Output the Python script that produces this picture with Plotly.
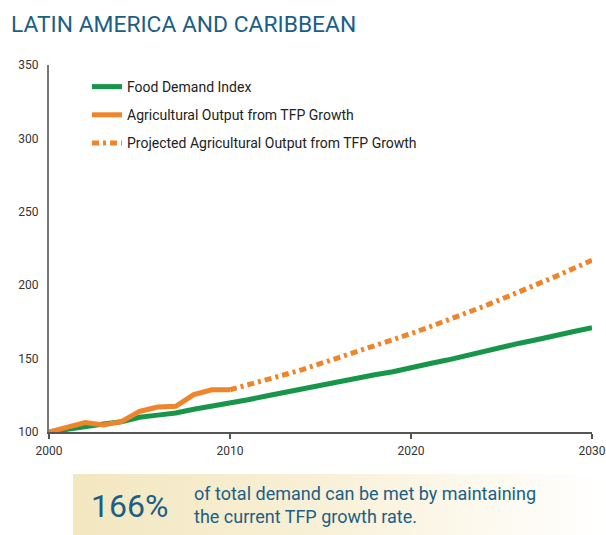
import plotly.graph_objects as go

years = list(range(2000, 2031))
food_demand = [100, 102, 104, 105.5, 107, 110, 111.5, 113, 115.5, 117.5, 120,
               122, 124.5, 127, 129, 131.5, 134, 136.5, 139, 141, 144,
               146.5, 149, 152, 154.5, 157.5, 160.5, 163, 166, 168.5, 171]
hist_years = list(range(2000, 2011))
ag_output = [100, 103.5, 106.5, 104.8, 107, 114, 117, 117.5, 125.5, 128.8, 128.8]
proj_years = list(range(2010, 2031))
ag_projected = [128.8, 132, 135.5, 139, 142.5, 146.5, 150.5, 154.5, 158.5, 163, 167,
                171.5, 176, 180.5, 185.5, 190.5, 195.5, 200.5, 206, 211.5, 217]
x_ticks = [2000, 2010, 2020, 2030]
y_ticks = [100, 150, 200, 250, 300, 350]

GREEN = "#17964a"
ORANGE = "#f0842a"
BLUE = "#1b5f86"
FONT = "Roboto"

W, H = 606, 535
ML, MR = 49, 0
MT, MB = 65, 0
pw, ph = W - ML - MR, H - MT - MB


def fx(px):  # reference x pixel -> paper x
    return (px - ML) / pw


def fy(py):  # reference y pixel -> paper y
    return (H - py) / ph


fig = go.Figure()
fig.add_trace(go.Scatter(x=years, y=food_demand, mode="lines", name="Food Demand Index",
                         line=dict(color=GREEN, width=5), legendgroup="a"))
fig.add_trace(go.Scatter(x=hist_years, y=ag_output, mode="lines",
                         name="Agricultural Output from TFP Growth",
                         line=dict(color=ORANGE, width=5), legendgroup="b"))
fig.add_trace(go.Scatter(x=proj_years, y=ag_projected, mode="lines",
                         name="Projected Agricultural Output from TFP Growth",
                         line=dict(color=ORANGE, width=5, dash="7px,4px,3px,4px"),
                         legendgroup="c"))

# gradient banner
fig.add_trace(go.Scatter(x=[0, 1, 1, 0, 0], y=[0, 0, 1, 1, 0], mode="none", fill="toself",
                         fillgradient=dict(type="horizontal",
                                           colorscale=[[0, "#f3e7c0"], [0.45, "#f8f0d6"], [1, "#ffffff"]]),
                         xaxis="x2", yaxis="y2", showlegend=False, hoverinfo="skip"))

fig.update_layout(
    width=W, height=H,
    margin=dict(l=ML, r=MR, t=MT, b=MB, autoexpand=False),
    plot_bgcolor="white", paper_bgcolor="white",
    font=dict(family=FONT, color="#333333", size=12),
    showlegend=True,
    legend=dict(x=fx(87), y=fy(71), xanchor="left", yanchor="top",
                font=dict(family=FONT, size=14, color="#222222"),
                tracegroupgap=7, bgcolor="rgba(0,0,0,0)", itemwidth=30),
    xaxis=dict(domain=[0, fx(592)], range=[2000, 2030], tickvals=x_ticks, automargin=False,
               showgrid=False, zeroline=False, showline=True, linecolor="#555555", linewidth=2,
               ticks="outside", ticklen=5, tickcolor="#555555", tickwidth=1.5,
               ticklabeloverflow="allow", ticklabelstandoff=2,
               tickfont=dict(size=12, color="#333333")),
    yaxis=dict(domain=[fy(432), 1], range=[100, 350], tickvals=y_ticks, automargin=False,
               showgrid=False, zeroline=False, showline=True, linecolor="#777777", linewidth=2,
               ticks="", ticklabelstandoff=6, tickfont=dict(size=12, color="#333333")),
    xaxis2=dict(domain=[fx(73), 1], range=[0, 1], visible=False, fixedrange=True),
    yaxis2=dict(domain=[0, fy(474)], range=[0, 1], visible=False, fixedrange=True),
)

fig.add_annotation(text="LATIN AMERICA AND CARIBBEAN", xref="paper", yref="paper",
                   x=fx(9), y=fy(24), xanchor="left", yanchor="middle",
                   showarrow=False, font=dict(family=FONT, size=22.8, color=BLUE))
fig.add_annotation(text="166%", xref="paper", yref="paper",
                   x=fx(89), y=fy(506), xanchor="left", yanchor="middle",
                   showarrow=False, font=dict(family=FONT, size=32, color=BLUE))
fig.add_annotation(text="of total demand can be met by maintaining<br>the current TFP growth rate.",
                   xref="paper", yref="paper", align="left",
                   x=fx(192), y=fy(505), xanchor="left", yanchor="middle",
                   showarrow=False, font=dict(family=FONT, size=18, color=BLUE))

fig.write_html("out.html", config={"displayModeBar": False},
               post_script="document.body.style.margin='0';document.documentElement.style.overflow='hidden';")
